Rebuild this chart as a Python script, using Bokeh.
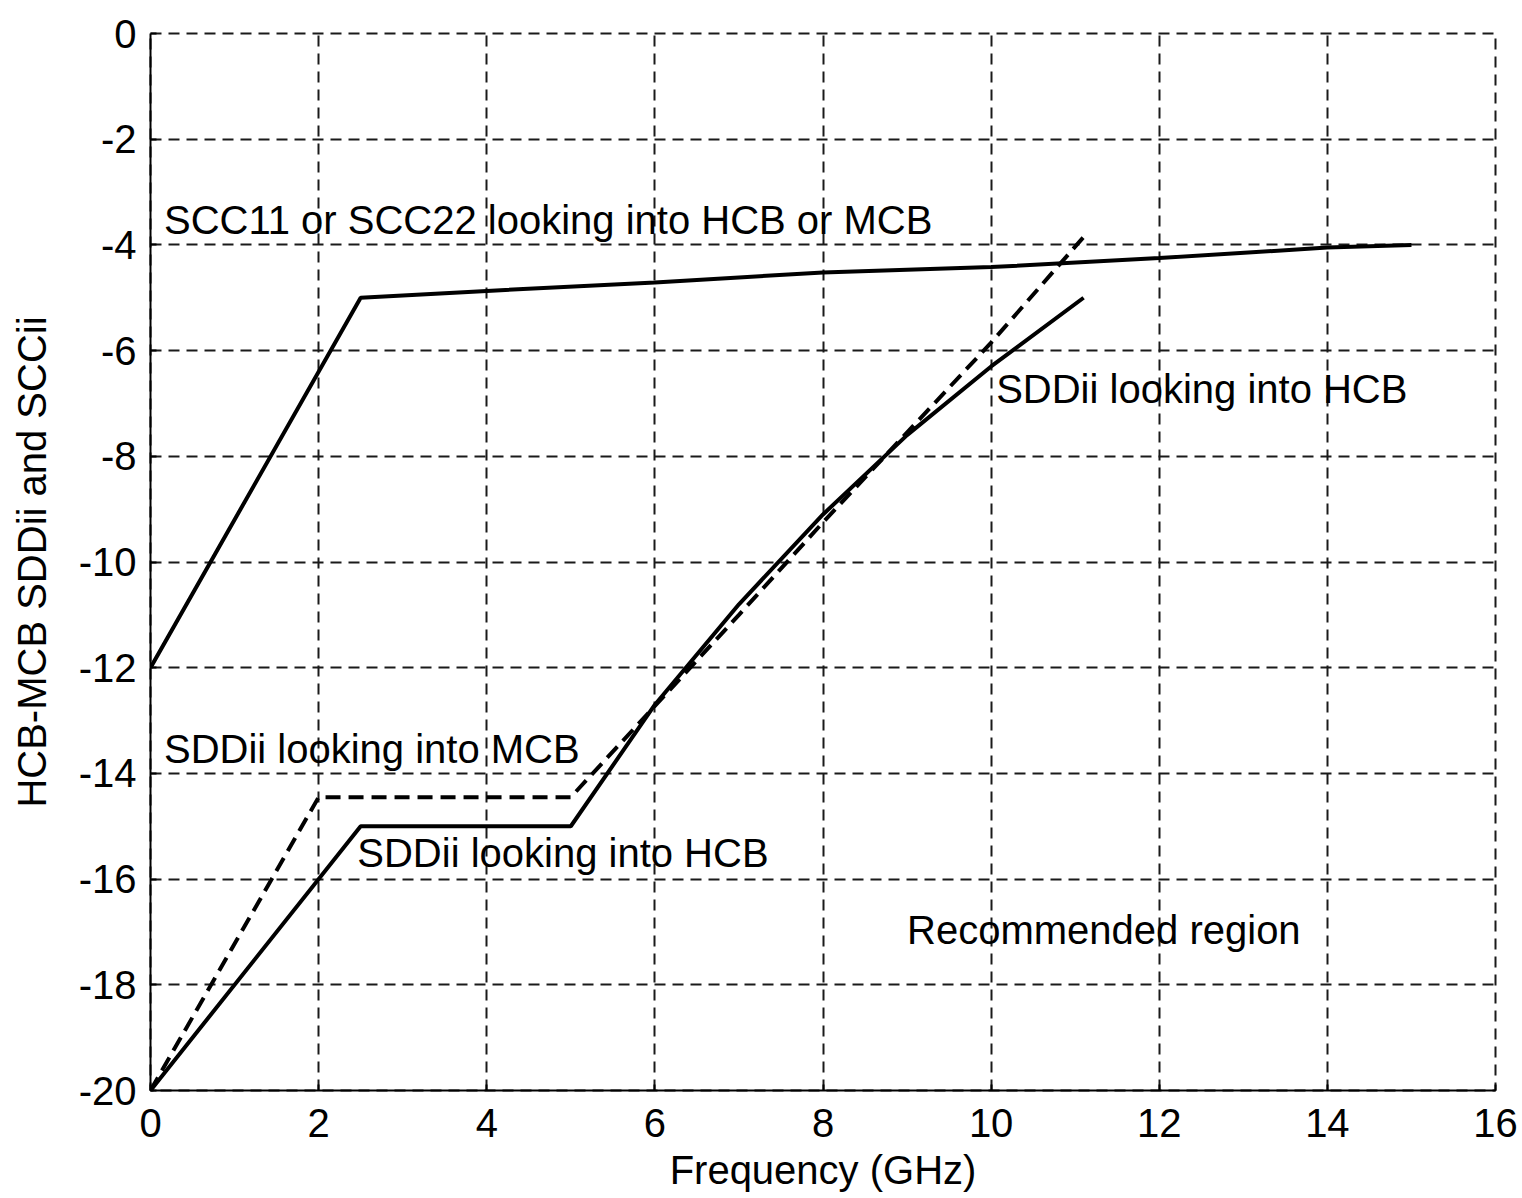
from bokeh.plotting import figure
from bokeh.models import Range1d, FixedTicker, Label
from bokeh.embed import file_html
from bokeh.resources import INLINE

# ---- data ----
x_ticks = [0, 2, 4, 6, 8, 10, 12, 14, 16]
y_ticks = [-20, -18, -16, -14, -12, -10, -8, -6, -4, -2, 0]

# SCC11 / SCC22 looking into HCB or MCB (solid)
freq_scc = [0, 2.5, 4, 6, 8, 10, 12, 14, 15]
scc = [-12, -5.0, -4.87, -4.71, -4.52, -4.42, -4.25, -4.05, -4.0]

# SDDii looking into HCB (solid)
freq_hcb = [0, 2.5, 5, 6, 7, 8, 9, 10, 11.1]
sdd_hcb = [-20, -15, -15, -12.7, -10.8, -9.1, -7.6, -6.3, -5.0]

# SDDii looking into MCB (dashed)
freq_mcb = [0, 2, 5, 7, 8, 10, 11.1]
sdd_mcb = [-20, -14.45, -14.45, -11.0, -9.25, -5.85, -3.85]

# annotations: (text, x, y)
annotations = [
    ("SCC11 or SCC22 looking into HCB or MCB", 0.16, -3.52),
    ("SDDii looking into HCB", 10.06, -6.72),
    ("SDDii looking into MCB", 0.16, -13.54),
    ("SDDii looking into HCB", 2.46, -15.51),
    ("Recommended region", 9.0, -16.97),
]

FONT = "Liberation Sans"
FS = "40px"

p = figure(width=1522, height=1198, output_backend="svg", toolbar_location=None,
           x_range=Range1d(0, 16), y_range=Range1d(-20, 0),
           min_border_left=150, min_border_right=27,
           min_border_top=33, min_border_bottom=108)
p.background_fill_color = "white"
p.border_fill_color = "white"
p.outline_line_color = "#1a1a1a"
p.outline_line_width = 2
p.outline_line_dash = "11 7"

p.xaxis.ticker = FixedTicker(ticks=x_ticks)
p.yaxis.ticker = FixedTicker(ticks=y_ticks)
p.xaxis.major_label_overrides = {t: str(t) for t in x_ticks}
p.yaxis.major_label_overrides = {t: str(t) for t in y_ticks}
p.xaxis.axis_label = "Frequency (GHz)"
p.yaxis.axis_label = "HCB-MCB SDDii and SCCii"

for ax in (p.xaxis[0], p.yaxis[0]):
    ax.axis_line_color = "black"
    ax.axis_line_width = 2
    ax.major_tick_line_color = "black"
    ax.major_tick_line_width = 2
    ax.major_tick_in = 6
    ax.major_tick_out = 0
    ax.minor_tick_line_color = None
    ax.major_label_text_font = FONT
    ax.major_label_text_font_size = FS
    ax.major_label_text_color = "black"
    ax.axis_label_text_font = FONT
    ax.axis_label_text_font_size = FS
    ax.axis_label_text_font_style = "normal"
    ax.axis_label_text_color = "black"

p.xaxis.major_label_standoff = 18
p.xaxis.axis_label_standoff = 8
p.yaxis.major_label_standoff = 14
p.yaxis.axis_label_standoff = 22

p.grid.grid_line_color = "#1a1a1a"
p.grid.grid_line_width = 2
p.grid.grid_line_dash = "11 7"

p.line(freq_scc, scc, line_width=4, line_color="black")
p.line(freq_hcb, sdd_hcb, line_width=4, line_color="black")
p.line(freq_mcb, sdd_mcb, line_width=4, line_color="black", line_dash="15 8")

for txt, tx, ty in annotations:
    p.add_layout(Label(x=tx, y=ty, text=txt, text_font=FONT, text_font_size=FS,
                       text_color="black", text_baseline="alphabetic", text_align="left"))

open("out.html", "w").write(file_html(p, INLINE))
